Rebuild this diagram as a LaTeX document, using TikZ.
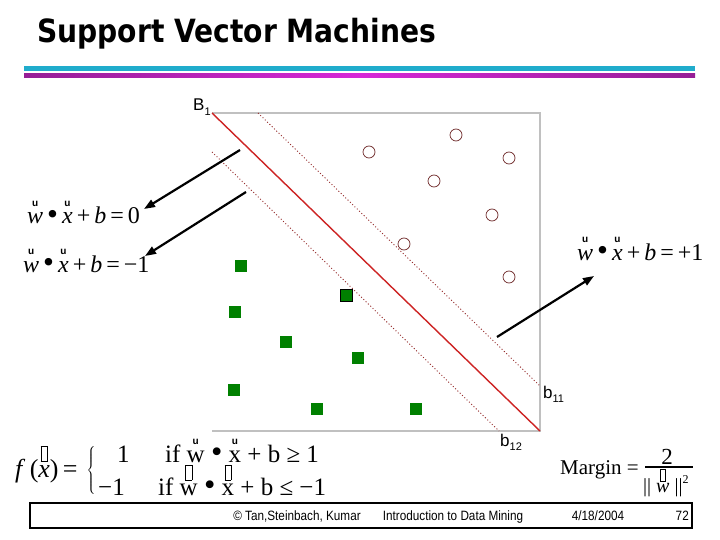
\documentclass[tikz,border=0pt]{standalone}
\usepackage{fontspec}
\setmainfont{Liberation Serif}
\setsansfont{Liberation Sans}
\newfontfamily\titlefont{DejaVu Sans}
\usetikzlibrary{arrows.meta}
\definecolor{cyanbar}{RGB}{32,172,204}
\definecolor{purpA}{RGB}{150,30,150}
\definecolor{purpB}{RGB}{215,40,215}
\definecolor{framegray}{RGB}{192,192,192}
\definecolor{hypred}{RGB}{205,35,35}
\definecolor{margred}{RGB}{150,45,45}
\definecolor{circcol}{RGB}{110,40,40}
\definecolor{sqgreen}{RGB}{0,128,0}
\newcommand\uacc{{\sffamily\bfseries\fontsize{10}{10}\selectfont u}}
\newcommand\bxacc{{\setlength\fboxsep{0pt}\setlength\fboxrule{0.6pt}\fbox{\rule{0pt}{0.55em}\hspace{0.22em}}}}
\newcommand\putover[3][0.72em]{\leavevmode\setbox0=\hbox{#3}\rlap{\hbox to \wd0{\hss\raisebox{#1}{#2}\hss}}\box0\relax}
\newcommand\bigbul{\raisebox{-0.02em}{\scalebox{1.3}{\textbullet}}}
\newcommand\wdotx{\putover{\uacc}{\textit{w}}\,\bigbul\,\putover{\uacc}{\textit{x}}}
\begin{document}
\begin{tikzpicture}[x=1pt,y=-1pt,
  eqn/.style={anchor=base west, inner sep=0pt, font=\fontsize{24}{24}\selectfont},
  frow/.style={anchor=base west, inner sep=0pt, font=\fontsize{25}{25}\selectfont},
  lbl/.style={anchor=base west, inner sep=0pt, font=\sffamily\fontsize{17}{17}\selectfont},
  foot/.style={anchor=base, inner sep=0pt, font=\sffamily\fontsize{13.5}{13.5}\selectfont},
  circpt/.style={circle, draw=circcol, line width=0.7pt, minimum size=12pt, inner sep=0pt},
  sqpt/.style={rectangle, fill=sqgreen, minimum size=12pt, inner sep=0pt},
  marg/.style={draw=margred, line width=0.9pt, dash pattern=on 1pt off 2.2pt},
  ptr/.style={draw=black, line width=2.2pt, -{Triangle[length=11pt,width=8pt]}},
  frame/.style={draw=framegray, line width=1.4pt}]
\useasboundingbox (0,0) rectangle (720,540);
\fill[white] (0,0) rectangle (720,540);
% title
\node[anchor=base west, inner sep=0pt] (title) at (37,43) {\scalebox{0.88}[1]{\titlefont\bfseries\fontsize{32}{32}\selectfont Support Vector Machines}};
\fill[cyanbar] (24,66) rectangle (695,71);
\shade[left color=purpA, right color=purpA, middle color=purpB] (24,74) rectangle (695,78);
% frame
\coordinate (fTL) at (212,113);
\coordinate (fTR) at (540,113);
\coordinate (fBR) at (540,431);
\coordinate (fBL) at (212,431);
\draw[frame] (fTL) -- (fTR) -- (fBR) -- (fBL);
% hyperplane and margins
\coordinate (h0a) at (212,113);
\coordinate (h0b) at (540,431);
\coordinate (h1a) at (258,113);
\coordinate (h1b) at (540,386);
\coordinate (h2a) at (212,152);
\coordinate (h2b) at (499,431);
\draw[hypred, line width=1.4pt] (h0a) -- (h0b);
\draw[marg] (h1a) -- (h1b);
\draw[marg] (h2a) -- (h2b);
\node[lbl] (B1) at (193,111) {B\raisebox{-0.25em}{\fontsize{11}{11}\selectfont 1}};
\node[lbl] (b11) at (543,398) {b\raisebox{-0.25em}{\fontsize{11}{11}\selectfont 11}};
\node[lbl] (b12) at (500,446) {b\raisebox{-0.25em}{\fontsize{11}{11}\selectfont 12}};
% circles
\node[circpt] (c1) at (369,152) {};
\node[circpt] (c2) at (456,135) {};
\node[circpt] (c3) at (509,158) {};
\node[circpt] (c4) at (434,181) {};
\node[circpt] (c5) at (492,215) {};
\node[circpt] (c6) at (404,244) {};
\node[circpt] (c7) at (509,277) {};
% squares
\node[sqpt] (s1) at (241,266) {};
\node[sqpt, draw=black, line width=0.8pt] (s2) at (346,295) {};
\node[sqpt] (s3) at (235,312) {};
\node[sqpt] (s4) at (286,342) {};
\node[sqpt] (s5) at (358,358) {};
\node[sqpt] (s6) at (234,390) {};
\node[sqpt] (s7) at (317,409) {};
\node[sqpt] (s8) at (416,409) {};
% equations
\node[eqn] (eq0) at (27,224) {\wdotx\,+\,\textit{b}\,=\,0};
\node[eqn] (eqm) at (23,272) {\wdotx\,+\,\textit{b}\,=\,−1};
\node[eqn] (eqp) at (577,260) {\wdotx\,+\,\textit{b}\,=\,+1};
% arrows
\coordinate (a1s) at (240,150);
\coordinate (a1e) at (144,209);
\coordinate (a2s) at (246,192);
\coordinate (a2e) at (145,256);
\coordinate (a3s) at (497,337);
\coordinate (a3e) at (594,276);
\draw[ptr] (a1s) -- (a1e);
\draw[ptr] (a2s) -- (a2e);
\draw[ptr] (a3s) -- (a3e);
% decision function
\node[frow, font=\fontsize{26}{26}\selectfont] (fx) at (15,477) {\textit{f}\,(\putover[0.62em]{\bxacc}{\textit{x}})\,=};
\node[inner sep=0pt, anchor=east] (brace) at (97,470) {\fontsize{21}{21}\selectfont$\left\{\rule{0pt}{31pt}\right.$};
\node[frow] (r1a) at (117,462) {1};
\node[frow] (r1b) at (165,462) {if \putover{\uacc}{w} \bigbul\ \putover{\uacc}{x} + b ≥ 1};
\node[frow] (r2a) at (98,495) {−1};
\node[frow] (r2b) at (158,495) {if \putover[0.62em]{\bxacc}{w} \bigbul\ \putover[0.62em]{\bxacc}{x} + b ≤ −1};
% margin
\node[frow, font=\fontsize{21}{21}\selectfont] (mg) at (560,474) {Margin =};
\coordinate (barL) at (645,467);
\coordinate (barR) at (693,467);
\draw[line width=1.1pt] (barL) -- (barR);
\node[frow, anchor=base, font=\fontsize{23}{23}\selectfont] (two) at (667,464) {2};
\node[anchor=base west, inner sep=0pt, font=\fontsize{20}{20}\selectfont] (den) at (643,492) {|| \putover[0.55em]{\bxacc}{\textit{w}} ||\raisebox{0.45em}{\fontsize{12}{12}\selectfont 2}};
% footer
\draw[line width=2pt] (30,503) rectangle (692,528);
\node[foot] (f1) at (297,520) {\scalebox{0.87}[1]{© Tan,Steinbach, Kumar}};
\node[foot] (f2) at (453,520) {\scalebox{0.87}[1]{Introduction to Data Mining}};
\node[foot] (f3) at (598,520) {\scalebox{0.87}[1]{4/18/2004}};
\node[foot, anchor=base east] (f4) at (689,520) {\scalebox{0.87}[1]{72}};
\end{tikzpicture}
\end{document}
